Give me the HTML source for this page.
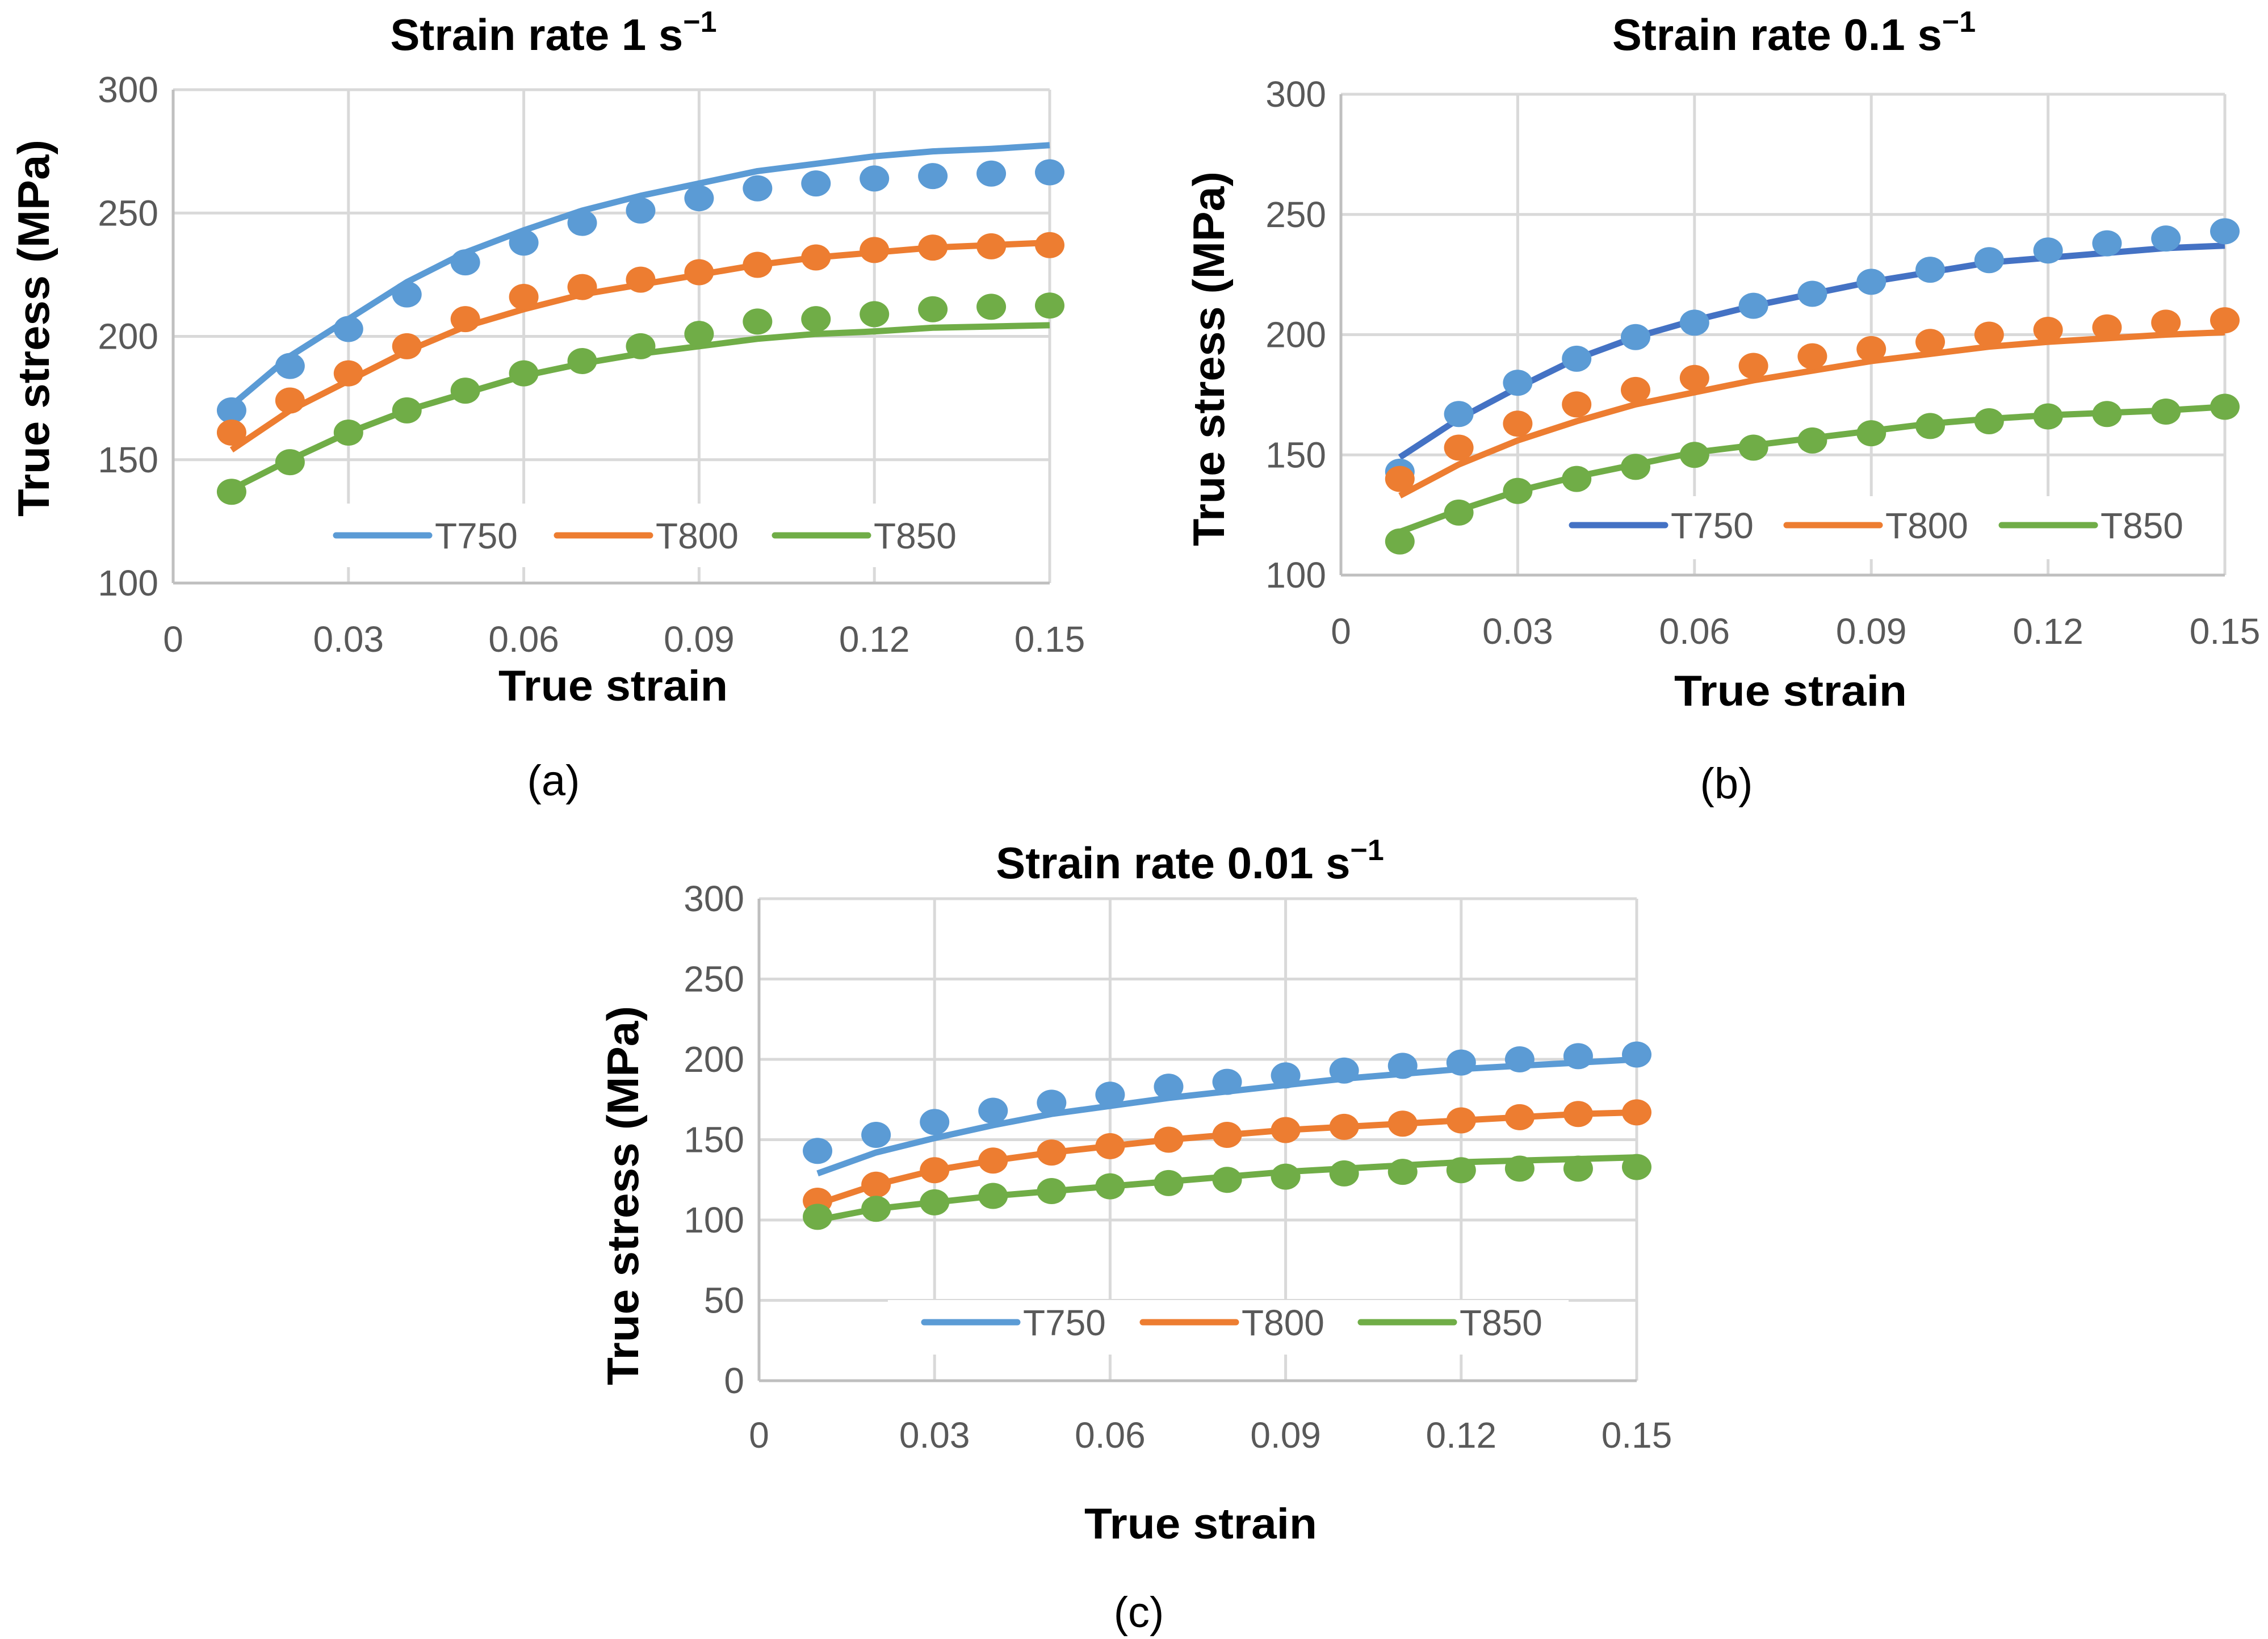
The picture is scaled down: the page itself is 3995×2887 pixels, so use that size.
<!DOCTYPE html>
<html><head><meta charset="utf-8">
<style>
html,body{margin:0;padding:0;background:#fff;}
svg{display:block;}
text{font-family:"Liberation Sans",sans-serif;}
</style></head>
<body>
<svg id="fig" width="3995" height="2887" viewBox="0 0 3995 2887" xmlns="http://www.w3.org/2000/svg"></svg>
<script>
// ---- data ----
const strains = [0.01,0.02,0.03,0.04,0.05,0.06,0.07,0.08,0.09,0.10,0.11,0.12,0.13,0.14,0.15];
const xTicks = [0,0.03,0.06,0.09,0.12,0.15];
const xTickLabels = ["0","0.03","0.06","0.09","0.12","0.15"];
const series = ["T750","T800","T850"];

const aT750pts = [170,188,203,217,230,238,246,251,256,260,262,264,265,266,266.5];
const aT750line = [172,192,207,222,234,243,251,257,262,267,270,273,275,276,277.5];
const aT800pts = [161,174,185,196,207,216,220,223,226,229,232,235,236,236.5,237];
const aT800line = [154,170,182,194,204,211,217,221,225,229,232,234,236,237,238];
const aT850pts = [137,149,161,170,178,185,190,196,201,206,207,209,211,212,212.5];
const aT850line = [138,150,161,170,177,184,189,193,196,199,201,202,203.5,204,204.5];

const bT750pts = [143,167,180,190,199,205,212,217,222,227,231,235,238,240,243];
const bT750line = [149,165,178,190,199,206,212,217,222,226,230,232,234,236,237];
const bT800pts = [140,153,163,171,177,182,187,191,194,197,200,202,203,205,206];
const bT800line = [133,146,156,164,171,176,181,185,189,192,195,197,198.5,200,201];
const bT850pts = [114,126,135,140,145,150,153,156,159,162,164,166,167,168,170];
const bT850line = [118,127,135,141,146,151,154,157,160,163,165,166.5,167.5,168.5,170];

const cT750pts = [143,153,161,168,173,178,183,186,190,193,196,198,200,202,203];
const cT750line = [129,142,151,159,166,171,176,180,184,188,191,194,196,198,200];
const cT800pts = [112,122,131,137,142,146,150,153,156,158,160,162,164,166,167];
const cT800line = [110,122,131,137,142,146,150,153,156,158,160,162,164,166,167];
const cT850pts = [102,107,111,115,118,121,123,125,127,129,130,131,132,132,133];
const cT850line = [100,107,111,115,118,121,124,127,130,132,134,136,137,138,139];

const yTicksAB = [100,150,200,250,300];
const yTicksC = [0,50,100,150,200,250,300];

const NS = "http://www.w3.org/2000/svg";
const svg = document.getElementById('fig');
function mk(tag, attrs, parent){
  const e = document.createElementNS(NS, tag);
  for (const k in attrs) e.setAttribute(k, attrs[k]);
  (parent||svg).appendChild(e);
  return e;
}

function drawChart(c){
  const g = mk('g', {});
  
  
  const xs = v => c.L + (v - 0) / 0.15 * (c.R - c.L);
  const ys = v => c.B - (v - c.ymin) / (c.ymax - c.ymin) * (c.B - c.T);
  c.yTicks.forEach(t => {
    const l = mk('line', {x1:c.L, x2:c.R, y1:ys(t), y2:ys(t), stroke:'#d9d9d9', 'stroke-width':5}, g);
    
    
    const tx = mk('text', {x:c.L - 26, y:ys(t) + 22, 'text-anchor':'end', 'font-size':64, fill:'#595959'}, g);
    tx.textContent = t;
    
    
  });
  xTicks.forEach((t, i) => {
    const l = mk('line', {x1:xs(t), x2:xs(t), y1:c.T, y2:c.B, stroke:'#d9d9d9', 'stroke-width':5}, g);
    
    
    const tx = mk('text', {x:xs(t), y:c.xtickY + 23, 'text-anchor':'middle', 'font-size':64, fill:'#595959'}, g);
    tx.textContent = xTickLabels[i];
    
    
  });
  const xa = mk('line', {x1:c.L, x2:c.R, y1:c.B, y2:c.B, stroke:'#bfbfbf', 'stroke-width':5}, g);
  
  
  const ya = mk('line', {x1:c.L, x2:c.L, y1:c.T, y2:c.B, stroke:'#bfbfbf', 'stroke-width':5}, g);
  
  
  const lb = mk('rect', {x:c.legBox[0], y:c.legBox[1], width:c.legBox[2], height:c.legBox[3], fill:'#fff'}, g);
  
  
  c.data.forEach((s, i) => {
    const d = s.line.map((v, j) => (j ? 'L' : 'M') + xs(strains[j]).toFixed(1) + ' ' + ys(v).toFixed(1)).join(' ');
    const p = mk('path', {d:d, fill:'none', stroke:s.lineColor, 'stroke-width':11, 'stroke-linejoin':'round'}, g);
    
    
    s.pts.forEach((v, j) => {
      const m = mk('ellipse', {cx:xs(strains[j]), cy:ys(v), rx:26, ry:23, fill:s.ptColor}, g);
      
      
    });
  });
  c.data.forEach((s, i) => {
    const lg = mk('g', {}, g);
    
    
    const lx = c.legX[i];
    mk('line', {x1:lx, x2:lx + 164, y1:c.legY, y2:c.legY, stroke:s.lineColor, 'stroke-width':11, 'stroke-linecap':'round'}, lg);
    const t = mk('text', {x:lx + 174, y:c.legY + 23, 'font-size':64, fill:'#595959'}, lg);
    t.textContent = series[i];
  });
  const tt = mk('text', {x:c.titleX, y:c.titleY + 28, 'text-anchor':'middle', 'font-size':78, 'font-weight':'bold', fill:'#000'}, g);
  
  
  tt.appendChild(document.createTextNode(c.title + ' s'));
  const sup = mk('tspan', {dy:-32, 'font-size':52}, tt);
  sup.textContent = '\u22121';
  const xt = mk('text', {x:c.xTitleX, y:c.xTitleY + 26, 'text-anchor':'middle', 'font-size':76, 'font-weight':'bold', fill:'#000', textLength:c.xTitleW, lengthAdjust:'spacingAndGlyphs'}, g);
  xt.textContent = 'True strain';
  
  
  const yt = mk('text', {x:0, y:0, 'text-anchor':'middle', 'font-size':78, 'font-weight':'bold', fill:'#000', textLength:c.yTitleLen, lengthAdjust:'spacingAndGlyphs', transform:'translate(' + (c.yTitleX + 28) + ',' + c.yTitleY + ') rotate(-90)'}, g);
  yt.textContent = 'True stress (MPa)';
  
  
  const cp = mk('text', {x:c.capX, y:c.capY + 26, 'text-anchor':'middle', 'font-size':76, fill:'#000', 'font-family':'"Liberation Serif", serif'}, g);
  cp.textContent = c.cap;
  
  
}

const BLUE = '#5B9BD5', DBLUE = '#4472C4', ORANGE = '#ED7D31', GREEN = '#70AD47';

drawChart({id:'a', L:305, R:1849, T:158, B:1027, ymin:100, ymax:300, yTicks:yTicksAB,
  xtickY:1125, title:'Strain rate 1', titleX:975, titleY:60,
  xTitleX:1080, xTitleY:1208, xTitleW:404, yTitleX:58, yTitleY:578, yTitleLen:664,
  capX:975, capY:1375, cap:'(a)', legY:943, legX:[592,981,1365], legBox:[564,887,1154,112],
  data:[{pts:aT750pts,line:aT750line,ptColor:BLUE,lineColor:BLUE},
        {pts:aT800pts,line:aT800line,ptColor:ORANGE,lineColor:ORANGE},
        {pts:aT850pts,line:aT850line,ptColor:GREEN,lineColor:GREEN}]});

drawChart({id:'b', L:2362, R:3919, T:166, B:1013, ymin:100, ymax:300, yTicks:yTicksAB,
  xtickY:1111, title:'Strain rate 0.1', titleX:3160, titleY:60,
  xTitleX:3154, xTitleY:1217, xTitleW:410, yTitleX:2128, yTitleY:632, yTitleLen:660,
  capX:3041, capY:1380, cap:'(b)', legY:925, legX:[2769,3147,3526], legBox:[2744,874,1141,111],
  data:[{pts:bT750pts,line:bT750line,ptColor:BLUE,lineColor:DBLUE},
        {pts:bT800pts,line:bT800line,ptColor:ORANGE,lineColor:ORANGE},
        {pts:bT850pts,line:bT850line,ptColor:GREEN,lineColor:GREEN}]});

drawChart({id:'c', L:1337, R:2883, T:1583, B:2432, ymin:0, ymax:300, yTicks:yTicksC,
  xtickY:2527, title:'Strain rate 0.01', titleX:2096, titleY:1519,
  xTitleX:2115, xTitleY:2684, xTitleW:410, yTitleX:1096, yTitleY:2106, yTitleLen:668,
  capX:2006, capY:2840, cap:'(c)', legY:2329, legX:[1628,2013,2397], legBox:[1564,2290,1199,96],
  data:[{pts:cT750pts,line:cT750line,ptColor:BLUE,lineColor:BLUE},
        {pts:cT800pts,line:cT800line,ptColor:ORANGE,lineColor:ORANGE},
        {pts:cT850pts,line:cT850line,ptColor:GREEN,lineColor:GREEN}]});
</script>
</body></html>
